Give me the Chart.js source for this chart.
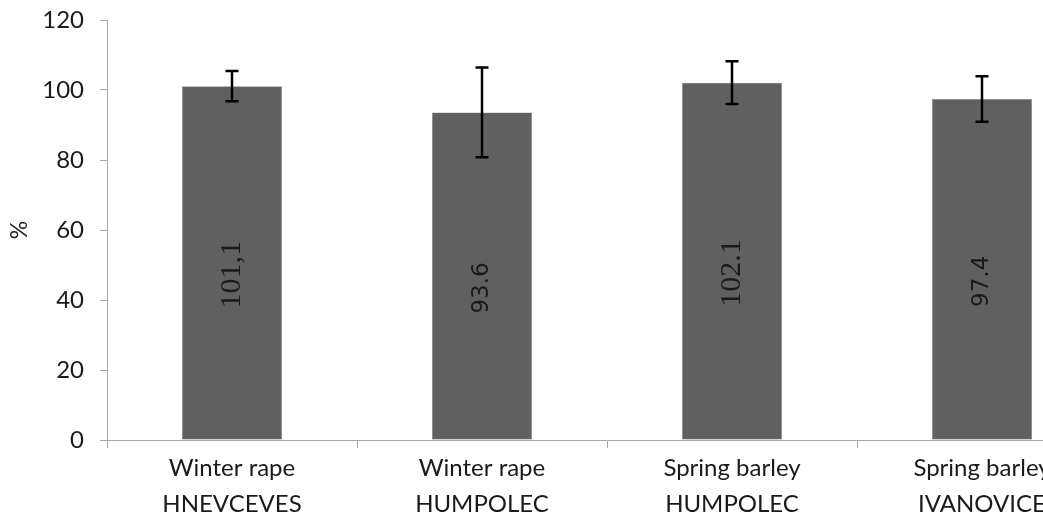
<!DOCTYPE html>
<html>
<head>
<meta charset="utf-8">
<script src="https://cdn.jsdelivr.net/npm/chart.js@4/dist/chart.umd.min.js"></script>
<style>
  html, body { margin: 0; padding: 0; background: #fff; overflow: hidden; }
  #wrap { width: 1110px; height: 521px; }
</style>
</head>
<body>
<div id="wrap"><canvas id="barChart"></canvas></div>
<script>
// data
var categories = [
    ['Winter rape', 'HNEVCEVES'],
    ['Winter rape', 'HUMPOLEC'],
    ['Spring barley', 'HUMPOLEC'],
    ['Spring barley', 'IVANOVICE']
];
var values = [101.1, 93.6, 102.1, 97.4];
var errors = [4.3, 12.8, 6.1, 6.5];
var valueLabels = ['101,1', '93.6', '102.1', '97.4'];
var yTicks = [0, 20, 40, 60, 80, 100, 120];

// error bars
var errorBars = {
    id: 'errorBars',
    afterDatasetsDraw: function (chart) {
        var ctx = chart.ctx;
        var y = chart.scales.y;
        var meta = chart.getDatasetMeta(0);
        ctx.save();
        ctx.strokeStyle = '#000';
        ctx.lineWidth = 2.5;
        meta.data.forEach(function (bar, i) {
            var top = y.getPixelForValue(values[i] + errors[i]);
            var bot = y.getPixelForValue(values[i] - errors[i]);
            ctx.beginPath();
            ctx.moveTo(bar.x, top);
            ctx.lineTo(bar.x, bot);
            ctx.moveTo(bar.x - 6.5, top);
            ctx.lineTo(bar.x + 6.5, top);
            ctx.moveTo(bar.x - 6.5, bot);
            ctx.lineTo(bar.x + 6.5, bot);
            ctx.stroke();
        });
        ctx.restore();
    }
};

// rotated value labels inside the bars
var barLabels = {
    id: 'barLabels',
    afterDatasetsDraw: function (chart) {
        var ctx = chart.ctx;
        var meta = chart.getDatasetMeta(0);
        ctx.save();
        ctx.fillStyle = '#1a1a1a';
        ctx.textAlign = 'center';
        ctx.textBaseline = 'middle';
        meta.data.forEach(function (bar, i) {
            var mid = (bar.y + bar.base) / 2 + 12;
            var serif = valueLabels[i].indexOf('1') === 0;
            ctx.font = serif ? '30px "Liberation Serif"' : '23px "DejaVu Sans"';
            ctx.save();
            ctx.translate(bar.x, mid);
            ctx.rotate(-Math.PI / 2);
            ctx.fillText(valueLabels[i], 0, 0);
            ctx.restore();
        });
        ctx.restore();
    }
};

var ctx = document.getElementById('barChart').getContext('2d');
var chart = new Chart(ctx, {
    type: 'bar',
    data: {
        labels: categories,
        datasets: [{
            data: values,
            backgroundColor: '#606060',
            borderColor: '#8a8a8a',
            borderWidth: 0.5,
            barPercentage: 0.5,
            categoryPercentage: 0.8
        }]
    },
    options: {
        responsive: true,
        maintainAspectRatio: false,
        animation: false,
        layout: { padding: { top: 20, right: 3, left: 0, bottom: 0 } },
        plugins: {
            legend: { display: false },
            tooltip: { enabled: false }
        },
        scales: {
            x: {
                grid: {
                    offset: true,
                    drawOnChartArea: false,
                    tickLength: 8,
                    color: '#a8a8a8'
                },
                border: { color: '#a8a8a8' },
                ticks: {
                    color: '#1a1a1a',
                    font: { family: 'Lato', size: 24, lineHeight: 1.5 },
                    padding: 2,
                    maxRotation: 0,
                    autoSkip: false
                },
                afterFit: function (s) { s.height = 81; }
            },
            y: {
                min: 0,
                max: 120,
                afterBuildTicks: function (s) {
                    s.ticks = yTicks.map(function (v) { return { value: v }; });
                },
                grid: {
                    drawOnChartArea: false,
                    tickLength: 7,
                    color: '#a8a8a8'
                },
                border: { color: '#a8a8a8' },
                ticks: {
                    color: '#1a1a1a',
                    font: { family: 'Lato', size: 24 },
                    padding: 16
                },
                title: {
                    display: true,
                    text: '%',
                    color: '#1a1a1a',
                    font: { family: 'Lato', size: 23 },
                    padding: { top: 6, bottom: 0 }
                },
                afterFit: function (s) {
                    s.width = 107;
                    s.paddingTop = 0;
                    s.paddingBottom = 0;
                }
            }
        }
    },
    plugins: [errorBars, barLabels]
});
</script>
</body>
</html>
